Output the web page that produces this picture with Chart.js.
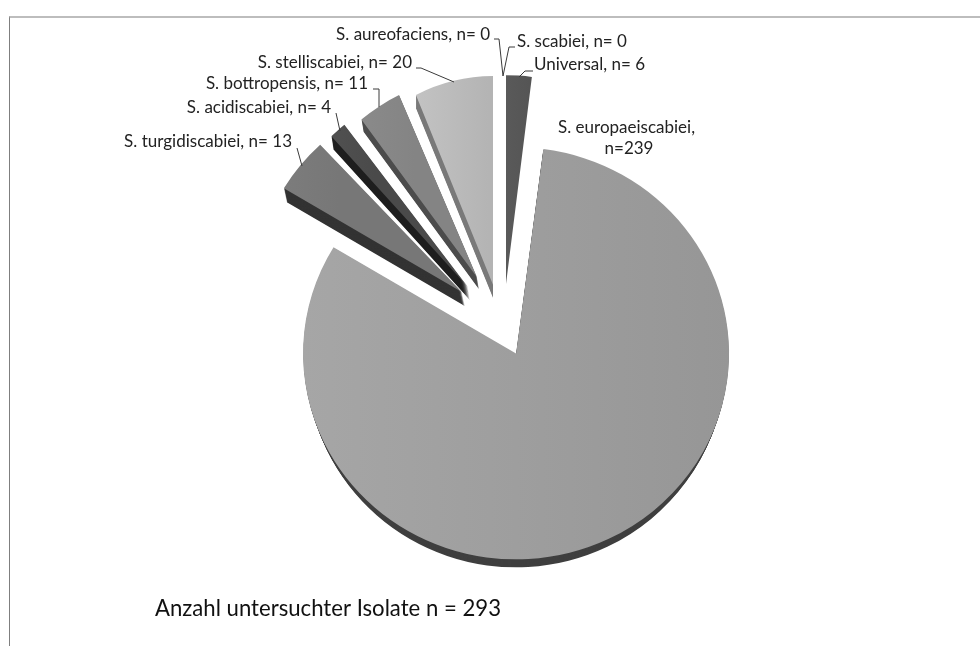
<!DOCTYPE html>
<html>
<head>
<meta charset="utf-8">
<script src="https://cdn.jsdelivr.net/npm/chart.js@4"></script>
<style>
  html, body { margin: 0; padding: 0; background: #fff; }
  #wrap { position: relative; width: 980px; height: 646px; overflow: hidden; }
  #frame { position: absolute; left: 9px; top: 16px; right: 0; bottom: 0;
           border-top: 2px solid #bdbdbd; border-left: 1px solid #7f7f7f; }
  #pie { position: absolute; left: 0; top: 0; }
</style>
</head>
<body>
<div id="wrap">
  <div id="frame"></div>
  <canvas id="pie" width="980" height="646"></canvas>
</div>
<script>
const categories = ["S. scabiei", "Universal", "S. europaeiscabiei", "S. turgidiscabiei",
  "S. acidiscabiei", "S. bottropensis", "S. stelliscabiei", "S. aureofaciens"];
const isolates = [0, 6, 239, 13, 4, 11, 20, 0];
const note = "Anzahl untersuchter Isolate n = 293";

// how far each slice is pulled out of the pie
const explode = [47, 47, 30, 53, 54, 50, 47, 47];
const tilt = [1, 0.94, 0.94, 1.08, 1, 1.19, 0.94, 1];
const faceLight = ["#555", "#5e5e5e", "#a6a6a6", "#7e7e7e", "#555555", "#8c8c8c", "#c2c2c2", "#555"];
const faceDark = ["#555", "#505050", "#969696", "#777777", "#4a4a4a", "#848484", "#b4b4b4", "#555"];
const wall = ["#333", "#333", "#3f3f3f", "#333333", "#1e1e1e", "#4c4c4c", "#7a7a7a", "#333"];
// face squash per slice (excel perspective) and extrusion: dx, dy, shrink of the far face
const squash = [[1, 1], [0.945, 0.98], [1, 0.967], [0.975, 0.945], [0.94, 0.967], [0.88, 0.94], [0.87, 0.98], [1, 1]];
const depth = [[0, 0, 1], [0, 0, 1], [0, 8, 0.984], [3, 14, 1], [2, 13, 1], [2, 12, 1], [0, 13, 1], [0, 0, 1]];

// label layout: anchor x, baseline y, align, then leader line
const labelLayout = [
  { i: 0, x: 517, y: 47, align: "left", line: [[515, 47], [509, 47], [503, 76]] },
  { i: 1, x: 534, y: 70, align: "left", line: [[533, 71], [525, 71], [519, 77]] },
  { i: 3, x: 292, y: 147, align: "right", line: [[297, 148], [302, 166]] },
  { i: 4, x: 331, y: 113, align: "right", line: [[336, 113], [340, 131]] },
  { i: 5, x: 368, y: 89, align: "right", line: [[373, 89], [379, 89], [379, 107]] },
  { i: 6, x: 412, y: 68, align: "right", line: [[416, 68], [421, 68], [454, 82]] },
  { i: 7, x: 490, y: 40, align: "right", line: [[494, 39], [499, 39], [503, 76]] }
];

function drawSlice(ctx, arc, i) {
  const mid = (arc.startAngle + arc.endAngle) / 2;
  const sy = squash[i][1];
  // apex of the slice once pulled out
  const ax = arc.x + Math.cos(mid) * explode[i];
  const ay = arc.y + Math.sin(mid) * explode[i] * tilt[i];
  const place = (dx, dy, shrink) => {
    const sx = squash[i][0] * shrink;
    ctx.setTransform(sx, 0, 0, sy, ax + dx - sx * arc.x, ay + dy - sy * arc.y);
  };
  const d = depth[i];
  const steps = Math.max(Math.abs(d[0]), Math.abs(d[1]));
  arc.options.backgroundColor = wall[i];
  for (let s = steps; s > 0; s--) {
    const t = s / steps;
    place(d[0] * t, d[1] * t, 1 - (1 - d[2]) * t);
    arc.draw(ctx);
  }
  // gradient is set up in the slice's own space, before the transform
  const rimX = i === 2 ? arc.x : arc.x + Math.cos(mid) * arc.outerRadius;
  const span = i === 2 ? arc.outerRadius : 40;
  const grad = ctx.createLinearGradient(rimX - span, 0, rimX + span, 0);
  grad.addColorStop(0, faceLight[i]);
  grad.addColorStop(1, faceDark[i]);
  arc.options.backgroundColor = grad;
  place(0, 0, 1);
  arc.draw(ctx);
  ctx.setTransform(1, 0, 0, 1, 0, 0);
}

const excelPie = {
  id: "excelPie",
  beforeDatasetDraw(chart, args) {
    const ctx = chart.ctx;
    const arcs = args.meta.data;
    ctx.save();
    isolates.forEach((v, i) => {
      if (v > 0) drawSlice(ctx, arcs[i], i);
    });
    ctx.restore();
    return false;
  },
  afterDraw(chart) {
    const ctx = chart.ctx;
    ctx.save();
    ctx.strokeStyle = "#3a3a3a";
    ctx.lineWidth = 1;
    ctx.fillStyle = "#222";
    ctx.textBaseline = "alphabetic";
    ctx.font = "17px Lato";
    labelLayout.forEach((l) => {
      ctx.textAlign = l.align;
      ctx.fillText(categories[l.i] + ", n= " + isolates[l.i], l.x, l.y);
      ctx.beginPath();
      l.line.forEach((p, k) => (k ? ctx.lineTo(p[0], p[1]) : ctx.moveTo(p[0], p[1])));
      ctx.stroke();
    });
    ctx.textAlign = "left";
    ctx.fillText(categories[2] + ",", 558, 133);
    ctx.textAlign = "center";
    ctx.fillText("n=" + isolates[2], 629, 154);
    ctx.textAlign = "left";
    ctx.font = "22.2px Lato";
    ctx.fillStyle = "#111";
    ctx.fillText(note, 155, 616, 346);
    ctx.restore();
  }
};

const chart = new Chart(document.getElementById("pie").getContext("2d"), {
  type: "pie",
  data: {
    labels: categories,
    datasets: [{ data: isolates, backgroundColor: faceDark, borderWidth: 0 }]
  },
  options: {
    responsive: false,
    animation: false,
    layout: { padding: { left: 290, right: 264, top: 115, bottom: 105 } },
    plugins: { legend: { display: false }, tooltip: { enabled: false } }
  },
  plugins: [excelPie]
});
</script>
</body>
</html>
